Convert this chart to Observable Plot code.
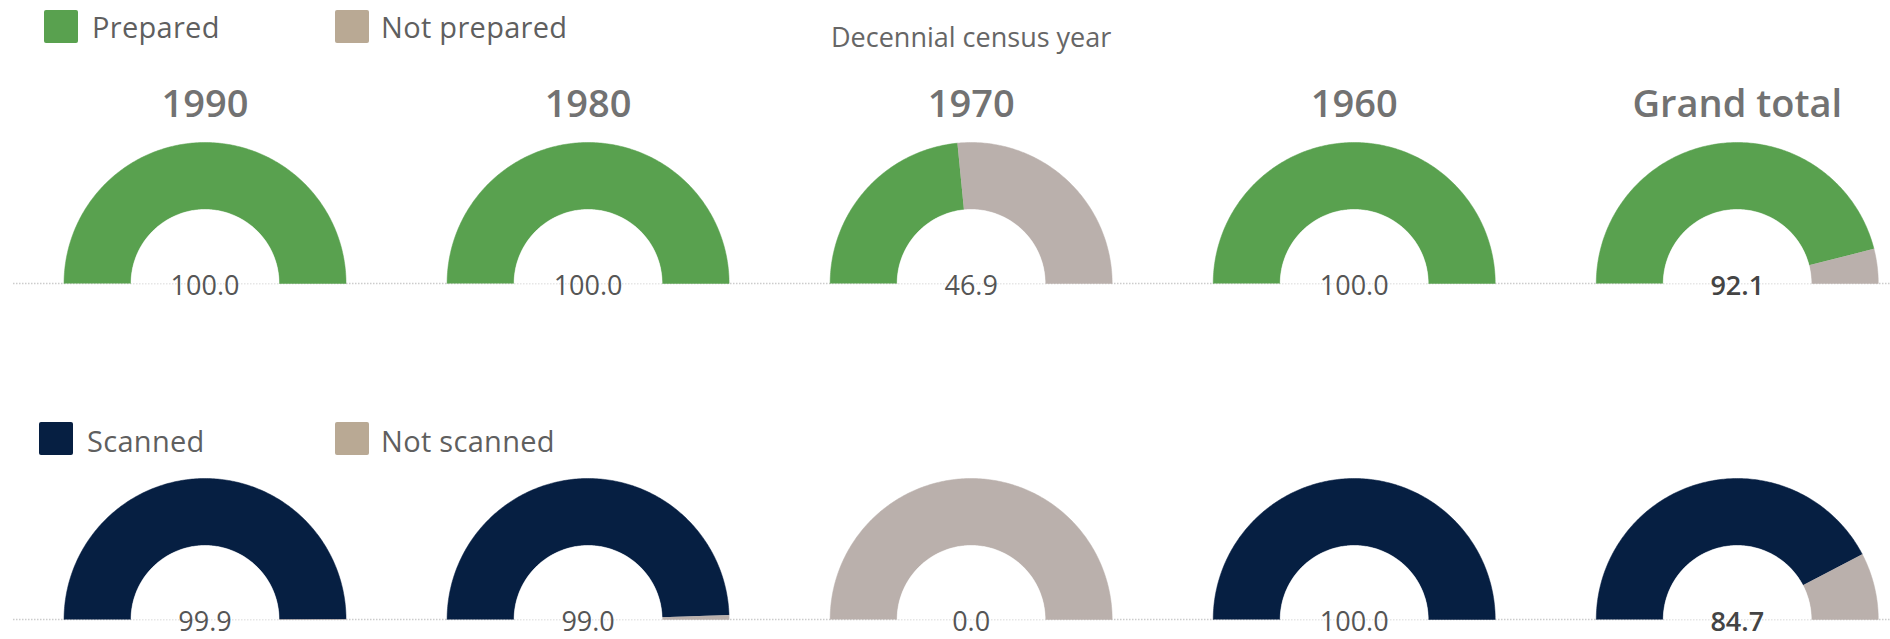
<!DOCTYPE html>
<html>
<head>
<meta charset="utf-8">
<script src="https://cdn.jsdelivr.net/npm/d3@7"></script>
<script src="https://cdn.jsdelivr.net/npm/@observablehq/plot@0.6"></script>
<style>
  html, body { margin: 0; padding: 0; background: #fff; }
  #wrap { position: relative; width: 1890px; height: 639px; overflow: hidden; font-family: "Open Sans", sans-serif; }
  #chart { position: absolute; left: 0; top: 0; }
  .sw { position: absolute; width: 34px; height: 33px; border-radius: 2px; }
  .lt { position: absolute; font-size: 29px; line-height: 29px; color: #5f5f5f; white-space: nowrap; letter-spacing: 0.3px; }
  g[aria-label="x-axis tick label"] text { font-weight: 600; fill: #727272; }
</style>
</head>
<body>
<div id="wrap">
  <div id="chart"></div>
  <div id="legend"></div>
</div>
<script>
// ---- data ----
const years = ["1990", "1980", "1970", "1960", "Grand total"];
const preparedPct = [100.0, 100.0, 46.9, 100.0, 92.1];
const scannedPct = [99.9, 99.0, 0.0, 100.0, 84.7];
const rowMetrics = ["Prepared", "Scanned"];
const rowComplements = ["Not prepared", "Not scanned"];
const headerLabel = "Decennial census year";

const colorDomain = ["Prepared", "Not prepared", "Scanned", "Not scanned"];
const colorRange = ["#59A14F", "#BAB0AC", "#061F42", "#BAB0AC"];
const legendSwatch = {"Prepared": "#59A14F", "Not prepared": "#B9A994", "Scanned": "#061F42", "Not scanned": "#B9A994"};

// ---- layout ----
const W = 1890, H = 639, mL = 13, mR = 0, mT = 125, mB = 0;
const xDomain = [-0.5, years.length - 0.6];
const pxPerUnit = (W - mL - mR) / (xDomain[1] - xDomain[0]);
const topBasePx = 283, rowGapPx = 336;
const outerR = 141 / pxPerUnit, innerR = 74 / pxPerUnit;
const yMax = (topBasePx - mT) / pxPerUnit;
const yMin = yMax - (H - mT - mB) / pxPerUnit;
const rowBase = [0, -rowGapPx / pxPerUnit];

const rows = [
  {metric: rowMetrics[0], other: rowComplements[0], values: preparedPct},
  {metric: rowMetrics[1], other: rowComplements[1], values: scannedPct}
];

const slices = [], holes = [], labels = [];
rows.forEach((row, r) => {
  row.values.forEach((v, i) => {
    const parts = [[row.metric, 0, v / 100], [row.other, v / 100, 1]];
    parts.forEach(([status, f0, f1], k) => {
      if (f1 - f0 <= 0) return;
      const id = `${r}-${i}-${k}`;
      const n = Math.max(2, Math.ceil((f1 - f0) * 240));
      for (let j = 0; j <= n; j++) {
        const t = Math.PI * (1 - (f0 + (f1 - f0) * j / n));
        slices.push({id, status, x: i + outerR * Math.cos(t), y: rowBase[r] + outerR * Math.sin(t)});
      }
      for (let j = n; j >= 0; j--) {
        const t = Math.PI * (1 - (f0 + (f1 - f0) * j / n));
        slices.push({id, status, x: i + innerR * Math.cos(t), y: rowBase[r] + innerR * Math.sin(t)});
      }
    });
    for (let j = 0; j <= 180; j++) {
      const t = Math.PI * (1 - j / 180);
      holes.push({id: `h${r}-${i}`, x: i + innerR * Math.cos(t), y: rowBase[r] + innerR * Math.sin(t)});
    }
    labels.push({slot: i, y: rowBase[r], value: v, total: i === years.length - 1});
  });
});

const chart = Plot.plot({
  width: W, height: H,
  marginLeft: mL, marginRight: mR, marginTop: mT, marginBottom: mB,
  style: {fontFamily: '"Open Sans", sans-serif', color: "#6a6a6a", background: "transparent", overflow: "visible"},
  x: {domain: xDomain},
  y: {domain: [yMin, yMax], axis: null},
  color: {domain: colorDomain, range: colorRange},
  marks: [
    Plot.ruleY(rowBase, {stroke: "#cccccc", strokeWidth: 1.5, strokeDasharray: "1.5,1.5"}),
    Plot.line(slices, {x: "x", y: "y", z: "id", fill: "status", stroke: "status", strokeWidth: 0.5, curve: "linear"}),
    Plot.line(holes, {x: "x", y: "y", z: "id", fill: "white", stroke: "white", strokeWidth: 0.5, curve: "linear"}),
    Plot.axisX({anchor: "top", ticks: d3.range(years.length), tickFormat: i => years[i], tickSize: 0, tickPadding: 9, fontSize: 38, label: null}),
    Plot.text([headerLabel], {x: () => (years.length - 1) / 2, frameAnchor: "top", lineAnchor: "bottom", dy: -79, fontSize: 27, fill: "#666", text: d => d}),
    Plot.text(labels.filter(d => !d.total), {x: "slot", y: "y", text: d => d.value.toFixed(1), lineAnchor: "middle", dy: 3, fontSize: 27, fill: "#555"}),
    Plot.text(labels.filter(d => d.total), {x: "slot", y: "y", text: d => d.value.toFixed(1), lineAnchor: "middle", dy: 3, fontSize: 27, fontWeight: 600, fill: "#444"})
  ]
});
document.getElementById("chart").appendChild(chart);

// ---- legends (HTML) ----
const legendItems = [
  {label: rowMetrics[0], sx: 44, sy: 10, tx: 92, ty: 12},
  {label: rowComplements[0], sx: 335, sy: 10, tx: 381, ty: 12},
  {label: rowMetrics[1], sx: 39, sy: 422, tx: 87, ty: 426},
  {label: rowComplements[1], sx: 335, sy: 422, tx: 381, ty: 426}
];
const leg = document.getElementById("legend");
legendItems.forEach(it => {
  const s = document.createElement("div");
  s.className = "sw";
  s.style.left = it.sx + "px"; s.style.top = it.sy + "px";
  s.style.background = legendSwatch[it.label];
  leg.appendChild(s);
  const t = document.createElement("div");
  t.className = "lt";
  t.style.left = it.tx + "px"; t.style.top = it.ty + "px";
  t.textContent = it.label;
  leg.appendChild(t);
});
</script>
</body>
</html>
